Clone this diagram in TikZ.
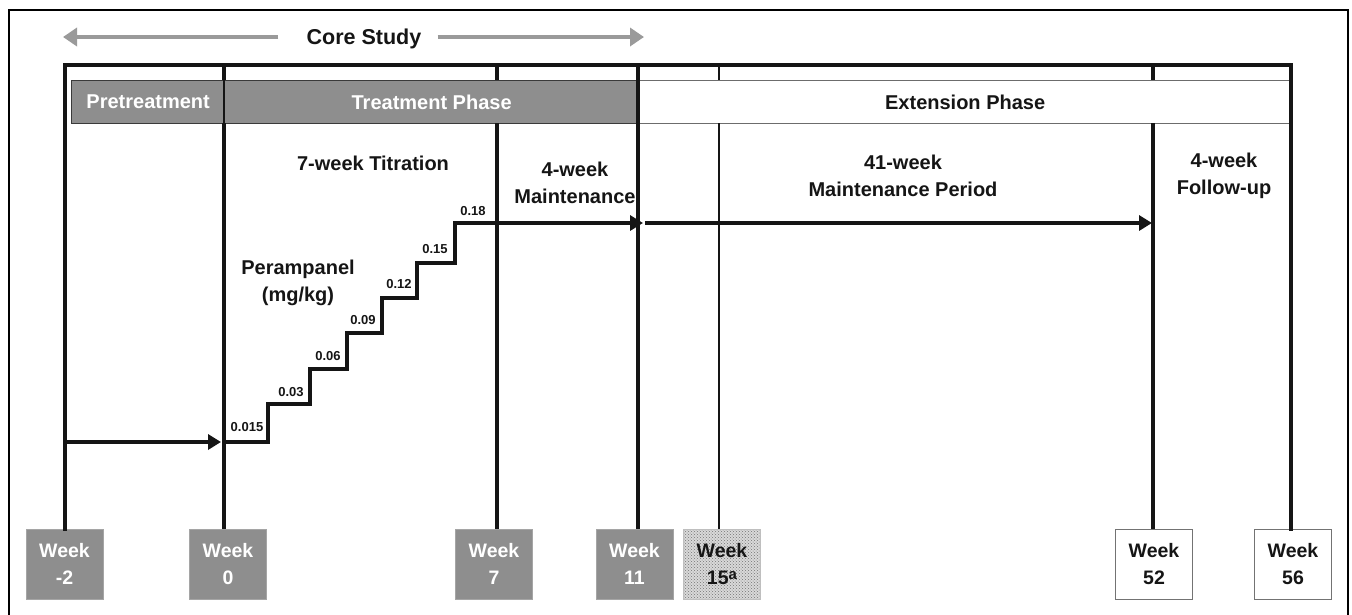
\documentclass[tikz,border=0pt]{standalone}
\usepackage{fontspec}
\setmainfont{Liberation Sans}
\usetikzlibrary{arrows.meta,patterns}
\definecolor{boxgray}{HTML}{8E8E8E}
\definecolor{arrowgray}{HTML}{9A9A9A}
\definecolor{bandline}{HTML}{3A3A3A}
\definecolor{inkblack}{HTML}{151515}
\begin{document}
\begin{tikzpicture}[x=1pt,y=-1pt,
  txt/.style={font=\bfseries\fontsize{20}{27}\selectfont, align=center, inner sep=0pt, text=inkblack},
  num/.style={font=\bfseries\fontsize{13}{15}\selectfont, inner sep=0pt, text=inkblack},
  weekbox/.style={minimum width=77pt, minimum height=70pt, inner sep=0pt, align=center,
    font=\bfseries\fontsize{19.5}{27}\selectfont},
  graybox/.style={weekbox, fill=boxgray, draw=boxgray!80!white, line width=0.8pt, text=white},
  whitebox/.style={weekbox, fill=white, draw=gray!90!black, line width=1pt, text=inkblack},
  dotbox/.style={weekbox, preaction={fill=gray!30}, pattern=crosshatch dots, pattern color=gray!90!black,
    draw=gray!50, line width=0.6pt, text=inkblack},
  band/.style={minimum height=43pt, inner sep=0pt, anchor=north west, line width=1.3pt,
    font=\bfseries\fontsize{20}{24}\selectfont},
  frame/.style={line width=4.5pt, draw=inkblack, line cap=rect},
  vline/.style={line width=4.5pt, draw=inkblack},
  divider/.style={line width=2.5pt, draw=inkblack},
  thinframe/.style={line width=2pt, draw=inkblack},
  flow/.style={line width=4pt, draw=inkblack, -{Triangle[length=13pt,width=15pt]}},
  stairs/.style={line width=4pt, draw=inkblack, line join=miter},
  grayarrow/.style={line width=4pt, draw=arrowgray, -{Triangle[length=14pt,width=18pt]}}
]
\useasboundingbox (0,0) rectangle (1352,614);
% outer border
\draw[line width=2pt] (9,10) rectangle (1348,625);

% Core Study header
\node[font=\bfseries\fontsize{21.5}{24}\selectfont, inner sep=0pt, text=inkblack] (core) at (364,39) {Core Study};
\coordinate (cl) at (63,37);
\coordinate (cr) at (644,37);
\draw[grayarrow] ([xshift=-28pt]core.west |- cl) -- (cl);
\draw[grayarrow] ([xshift=16pt]core.east |- cr) -- (cr);

% week boxes
\node[graybox] (wm2) at (64.5,564) {Week\\-2};
\node[graybox] (w0) at (228,564) {Week\\0};
\node[graybox] (w7) at (494,564) {Week\\7};
\node[graybox] (w11) at (634.5,564) {Week\\11};
\node[dotbox] (w15) at (722,564) {Week\\15\raisebox{5pt}{\fontsize{15}{15}\selectfont a}};
\node[whitebox] (w52) at (1154,564) {Week\\52};
\node[whitebox] (w56) at (1293,564) {Week\\56};

% frame top coordinates
\coordinate (tm2) at (65,65);
\coordinate (t0) at (224,65);
\coordinate (t7) at (497,65);
\coordinate (t11) at (638,65);
\coordinate (t15) at (719,65);
\coordinate (t52) at (1153,65);
\coordinate (t56) at (1291,65);
\coordinate (bandtop) at (0,80);
\coordinate (bandbot) at (0,123);

% phase band
\node[band, fill=boxgray, draw=bandline, text=white, minimum width=153pt] (pre) at (71,80) {Pretreatment};
\node[band, fill=boxgray, draw=bandline, text=white, minimum width=414pt] (treat) at (224,80) {Treatment Phase};
\node[band, fill=white, draw=gray!85!black, text=inkblack, minimum width=653pt] (ext) at (638,80) {Extension Phase};

% frame lines (interrupted by the band except at the outer edges and the phase dividers)
\draw[frame] (tm2 |- wm2.north) -- (tm2) -- (t56) -- (t56 |- w56.north);
\draw[vline] (t0) -- (t0 |- bandtop);
\draw[divider] (t0 |- bandtop) -- (t0 |- bandbot);
\draw[vline] (t0 |- bandbot) -- (t0 |- w0.north);
\draw[vline] (t7) -- (t7 |- bandtop);
\draw[vline] (t7 |- bandbot) -- (t7 |- w7.north);
\draw[vline] (t11) -- (t11 |- w11.north);
\draw[thinframe] (t15) -- (t15 |- bandtop);
\draw[thinframe] (t15 |- bandbot) -- (t15 |- w15.north);
\draw[vline] (t52) -- (t52 |- bandtop);
\draw[vline] (t52 |- bandbot) -- (t52 |- w52.north);

% period labels
\node[txt] (titr) at (373,163) {7-week Titration};
\node[txt] (maint4) at (575,183) {4-week\\Maintenance};
\node[txt] (maint41) at (903,175.5) {41-week\\Maintenance Period};
\node[txt] (follow) at (1224,175.5) {4-week\\Follow-up};
\node[txt] (peram) at (298,283) {Perampanel\\(mg/kg)};

% titration staircase
\coordinate (a0) at (65,442);
\coordinate (s0) at (224,442);
\draw[flow] (a0) -- ([xshift=-3pt]s0);
\draw[stairs] (s0) -- (268,442) -- (268,404) -- (310,404) -- (310,369) -- (347,369)
  -- (347,333) -- (382,333) -- (382,298) -- (417,298) -- (417,263) -- (455,263) -- (455,223) -- (500,223);
\coordinate (m0) at (455,223);
\coordinate (m1) at (643,223);
\draw[flow] (m0) -- (m1);
\coordinate (e0) at (645,223);
\coordinate (e1) at (1152,223);
\draw[flow] (e0) -- (e1);

% dose labels
\node[num] (d1) at (247,427) {0.015};
\node[num] (d2) at (291,392) {0.03};
\node[num] (d3) at (328,356) {0.06};
\node[num] (d4) at (363,320) {0.09};
\node[num] (d5) at (399,284) {0.12};
\node[num] (d6) at (435,249) {0.15};
\node[num] (d7) at (473,211) {0.18};
\end{tikzpicture}
\end{document}
